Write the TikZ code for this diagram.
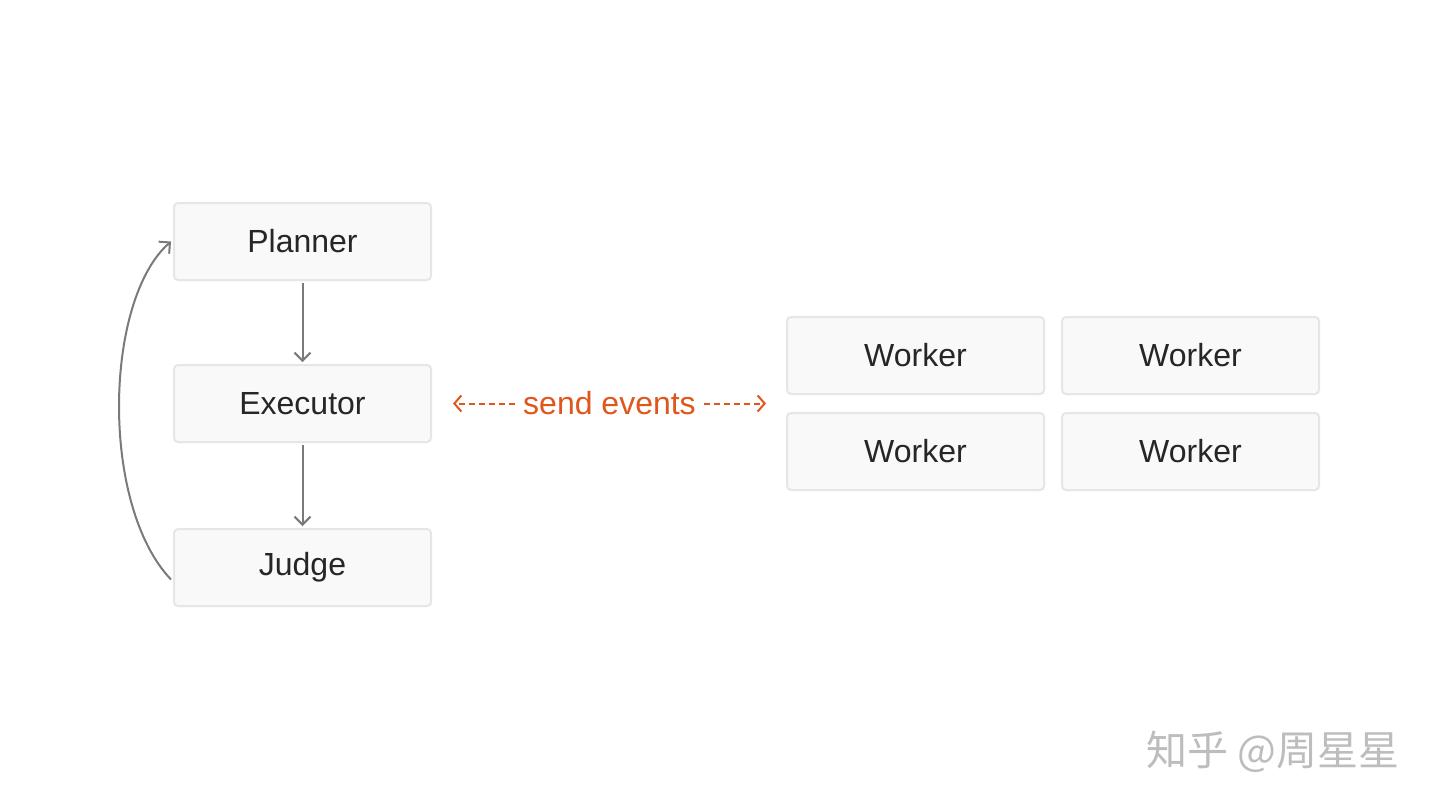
\documentclass[tikz,border=0pt]{standalone}
\usepackage{fontspec}
\setmainfont{Liberation Sans}
\newfontfamily\cjkfont{Noto Sans CJK SC}
\usetikzlibrary{arrows.meta}
\definecolor{boxfill}{HTML}{F9F9F9}
\definecolor{boxline}{HTML}{E6E6E6}
\definecolor{arrowgray}{HTML}{7A7A7A}
\definecolor{evorange}{HTML}{E0561B}
\definecolor{wmgray}{HTML}{BDBDBD}
\begin{document}
\begin{tikzpicture}[x=0.5pt,y=-0.5pt,
  box/.style={draw=boxline, line width=1pt, fill=boxfill, rounded corners=2pt,
    minimum width=128.5pt, minimum height=38.5pt, inner sep=0pt,
    font=\fontsize{16}{19}\selectfont, text=black!85},
  flow/.style={draw=arrowgray, line width=1pt, -{Straight Barb[length=4pt,width=8pt,line width=1pt]}},
  evline/.style={draw=evorange, line width=1pt, dash pattern=on 3pt off 2pt},
  evtip/.style={-{Straight Barb[length=3.5pt,width=8pt,line width=1pt]}}
]
\useasboundingbox (0,0) rectangle (1440,810);
\fill[white] (0,0) rectangle (1440,810);

\node[box] (planner) at (302.5,241.5) {Planner};
\node[box] (executor) at (302.5,403.5) {Executor};
\node[box] (judge) at (302.5,567.5) {Judge};

\node[box] (w1) at (915.5,355.5) {Worker};
\node[box] (w2) at (1190.5,355.5) {Worker};
\node[box] (w3) at (915.5,451.5) {Worker};
\node[box] (w4) at (1190.5,451.5) {Worker};

\draw[flow] ([yshift=-1pt]planner.south) -- ([yshift=1pt]executor.north);
\draw[flow] ([yshift=-1pt]executor.south) -- ([yshift=1pt]judge.north);
\draw[flow] ([xshift=-1pt,yshift=-6pt]judge.west) .. controls (100,505) and (104,300) .. ([xshift=-1pt]planner.west);

\node[text=evorange, font=\fontsize{16}{19}\selectfont, inner sep=0pt] (ev) at (609.5,403.5) {send events};
\coordinate (evl) at (453,403.5);
\coordinate (evr) at (766,403.5);
\draw[evline] ([xshift=-4pt]ev.west) -- ([xshift=1pt]evl);
\draw[evline] ([xshift=4pt]ev.east) -- ([xshift=-1pt]evr);
\draw[evorange, line width=1pt, evtip] ([xshift=1pt]evl) -- (evl);
\draw[evorange, line width=1pt, evtip] ([xshift=-1pt]evr) -- (evr);

\node[text=wmgray, font=\cjkfont\fontsize{20.5}{24}\selectfont, inner sep=0pt, anchor=east] (wm) at (1400,752) {知乎 @周星星};
\end{tikzpicture}
\end{document}
